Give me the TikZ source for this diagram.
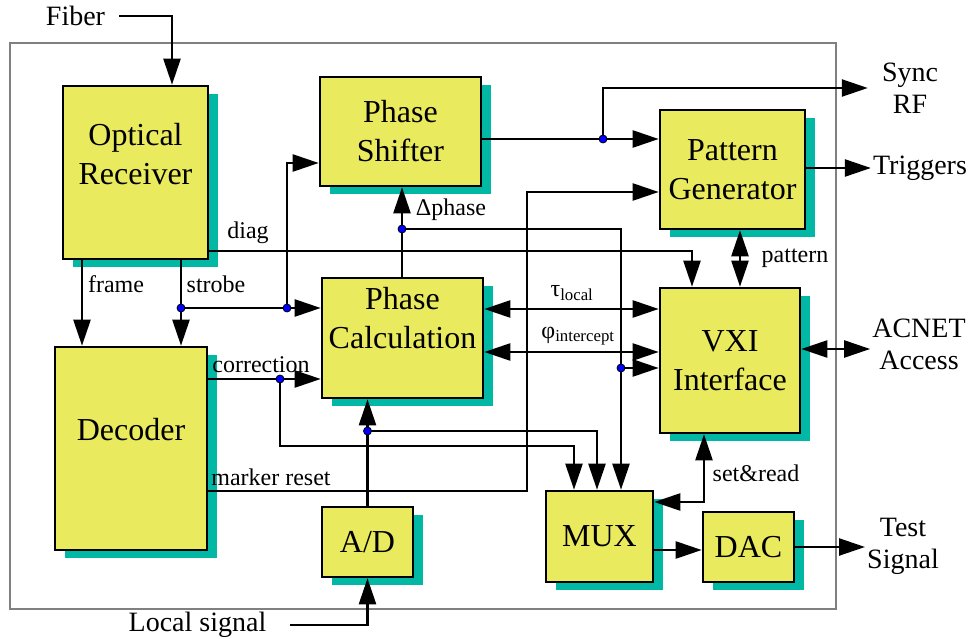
\documentclass[tikz,border=0pt]{standalone}
\usepackage{fontspec}
\setmainfont{Liberation Serif}
\usepackage{tikz}
\usetikzlibrary{calc,positioning,arrows.meta,shadows}
\definecolor{blkyellow}{RGB}{234,234,94}
\definecolor{blkteal}{RGB}{0,184,164}

\begin{document}
\begin{tikzpicture}[x=1pt, y=-1pt,
    blk/.style={draw, line width=2.6pt, fill=blkyellow, inner sep=0pt, align=center,
      font=\fontsize{32}{39}\selectfont,
      general shadow={fill=blkteal, shadow xshift=10pt, shadow yshift=-8pt}},
    blktxt/.style={inner sep=0pt, align=center, font=\fontsize{32}{39}\selectfont},
    sig/.style={inner sep=1pt, font=\fontsize{24}{28}\selectfont},
    ext/.style={inner sep=2pt, align=center, font=\fontsize{28}{32}\selectfont},
    arr/.style={line width=2.4pt, -{Triangle[length=26pt,width=17pt]}},
    dbl/.style={line width=2.4pt, {Triangle[length=26pt,width=17pt]}-{Triangle[length=26pt,width=17pt]}},
    dot/.style={circle, draw, fill=blue, line width=0.8pt, inner sep=0pt, minimum size=8pt}]

  \useasboundingbox (0,0) rectangle (972,639);
  % Outer frame
  \draw[gray, line width=2.5pt] (10,43) rectangle (836,609);

  % Blocks
  \node[blk, minimum width=145pt, minimum height=173pt] (orx) at (135.5,172.5) {};
  \node[blktxt] (orxtxt) at (135.5,154) {Optical\\Receiver};
  \node[blk, minimum width=152pt, minimum height=203pt] (dec) at (131,448.5) {};
  \node[blktxt] (dectxt) at (131,430) {Decoder};
  \node[blk, minimum width=161pt, minimum height=109pt] (psh) at (400.5,131.5) {Phase\\Shifter};
  \node[blk, minimum width=161pt, minimum height=120pt] (pcal) at (402.5,338) {};
  \node[blktxt] (pcaltxt) at (402.5,318) {Phase\\Calculation};
  \node[blk, minimum width=145pt, minimum height=119pt] (pgen) at (732.5,169.5) {Pattern\\Generator};
  \node[blk, minimum width=140pt, minimum height=145pt] (vxi) at (730,360.5) {VXI\\Interface};
  \node[blk, minimum width=107pt, minimum height=91pt] (mux) at (599.5,536.5) {MUX};
  \node[blk, minimum width=91pt, minimum height=70pt] (dac) at (748.5,547) {DAC};
  \node[blk, minimum width=91pt, minimum height=70pt] (adc) at (367.5,542) {A/D};

  % Outside signals
  \node[ext] (fiber) at (75.5,16) {Fiber};
  \node[ext] (local) at (197.5,625) {Local signal};
  \node[ext] (sync) at (910,88) {Sync\\RF};
  \node[ext] (trig) at (920,168) {Triggers};
  \node[ext] (acnet) at (919,344) {ACNET\\Access};
  \node[ext] (test) at (903,546) {Test\\Signal};

  % Junctions and bends
  \coordinate (jstb) at (181,308);
  \coordinate (jps) at (287,308);
  \coordinate (jcor) at (280,379);
  \coordinate (jad) at (367.5,431);
  \coordinate (jdph) at (402,229);
  \coordinate (jvx) at (621,368);
  \coordinate (jsync) at (603,139);
  \coordinate (mrk) at (527,192);

  % Optical receiver
  \draw[arr] ([xshift=12pt]fiber.east) -| (orx.north -| 172,0);
  \draw[arr] (orx.south -| 82,0) -- (dec.north -| 82,0);
  \draw[arr] (orx.south -| jstb) -- (dec.north -| jstb);
  \draw[arr] (jstb) -- (pcal.west |- jstb);
  \draw[arr] (jps) |- (psh.west |- 0,163);
  \draw[arr] (orx.east |- 0,251) -| (vxi.north -| 692,0);

  % Decoder
  \draw[arr] (dec.east |- jcor) -- (pcal.west |- jcor);
  \draw[arr] (jcor) -- ++(0,67) -| (mux.north -| 574,0);
  \draw[arr] (dec.east |- 0,491) -| (mrk) -- (pgen.west |- mrk);

  % A/D
  \draw[arr] ([xshift=21pt]local.east) -| (adc.south);
  \draw[arr] (adc.north) -- (pcal.south -| adc.north);
  \draw[arr] (jad) -| (mux.north -| 597,0);

  % Phase calculation
  \draw[arr] (pcal.north -| jdph) -- (psh.south -| jdph);
  \draw[arr] (jdph) -| (mux.north -| jvx);
  \draw[arr] (jvx) -- (vxi.west |- jvx);
  \draw[dbl] (pcal.east |- 0,309) -- (vxi.west |- 0,309);
  \draw[dbl] (pcal.east |- 0,352) -- (vxi.west |- 0,352);

  % Phase shifter, pattern generator
  \draw[arr] (psh.east |- jsync) -- (pgen.west |- jsync);
  \draw[arr] (jsync) |- ([xshift=-12pt]sync.west);
  \draw[arr] (pgen.east |- 0,168) -- (trig.west);
  \draw[dbl] (pgen.south -| 740,0) -- (vxi.north -| 740,0);

  % VXI, MUX, DAC
  \draw[dbl] (vxi.east |- 0,349) -- (acnet.west |- 0,349);
  \draw[dbl] (vxi.south -| 704,0) |- (mux.east |- 0,502);
  \draw[arr] (mux.east |- 0,550) -- (dac.west |- 0,550);
  \draw[arr] (dac.east |- 0,547) -- (test.west |- 0,547);

  % Signal names
  \node[sig] (diaglbl) at (248,233) {diag};
  \node[sig] (frmlbl) at (116,284) {frame};
  \node[sig] (stblbl) at (216,284) {strobe};
  \node[sig] (corlbl) at (261,365) {correction};
  \node[sig] (mrklbl) at (271,477) {marker reset};
  \node[sig] (dphlbl) at (451,210) {Δphase};
  \node[sig] (patlbl) at (795,258) {pattern};
  \node[sig] (srdlbl) at (756,473) {set\&read};
  \node[sig] (taulbl) at (572,293) {τ\textsubscript{local}};
  \node[sig] (philbl) at (578,336) {φ\textsubscript{intercept}};

  % Junction dots
  \foreach \j in {jstb,jps,jcor,jad,jdph,jvx,jsync}
    \node[dot] (\j-dot) at (\j) {};
\end{tikzpicture}
\end{document}
